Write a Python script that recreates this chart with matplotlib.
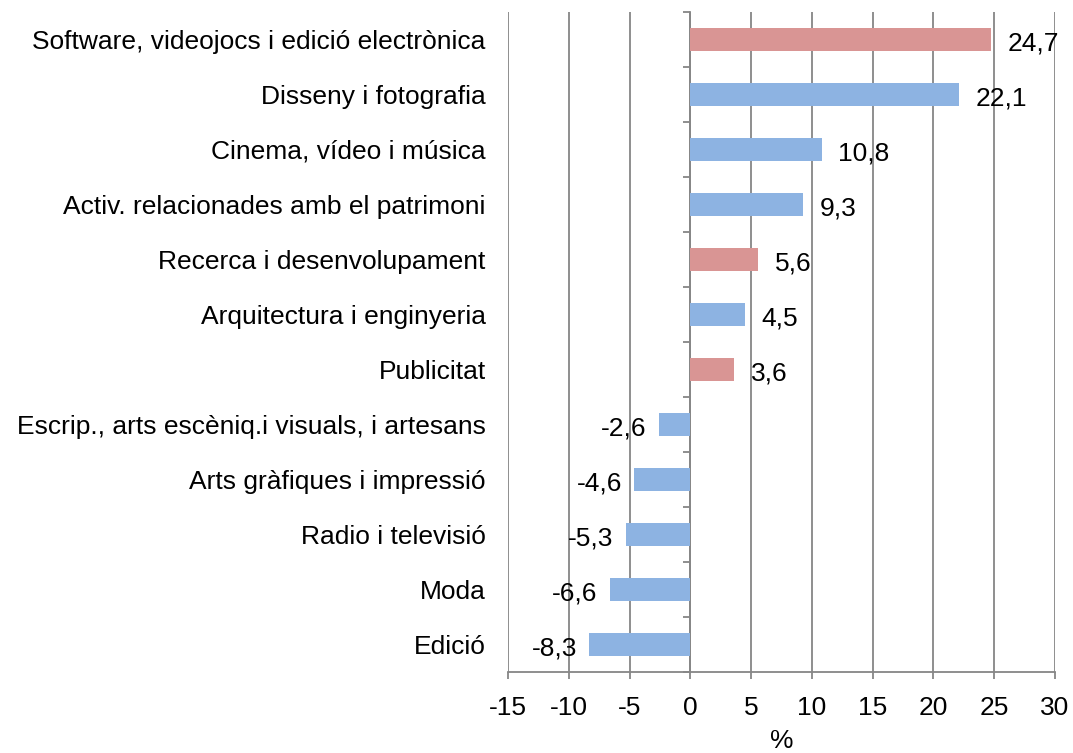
import numpy as np
import matplotlib.pyplot as plt

plt.rcParams['font.family'] = ['Liberation Sans', 'DejaVu Sans']
plt.rcParams['axes.unicode_minus'] = False

categories = [
    "Software, videojocs i edició electrònica",
    "Disseny i fotografia",
    "Cinema, vídeo i música",
    "Activ. relacionades amb el patrimoni",
    "Recerca i desenvolupament",
    "Arquitectura i enginyeria",
    "Publicitat",
    "Escrip., arts escèniq.i visuals, i artesans",
    "Arts gràfiques i impressió",
    "Radio i televisió",
    "Moda",
    "Edició",
]
values = [24.7, 22.1, 10.8, 9.3, 5.6, 4.5, 3.6, -2.6, -4.6, -5.3, -6.6, -8.3]
highlight = [True, False, False, False, True, False, True, False, False, False, False, False]

red = "#D99594"
blue = "#8DB3E2"
grid_c = "#868686"
fs = 19

fig = plt.figure(figsize=(10.73, 7.53), dpi=100)
ax = fig.add_axes([0.4734, 0.1076, 0.5098, 0.8765])

n = len(categories)
y = np.arange(n)[::-1]
colors = [red if h else blue for h in highlight]
ax.barh(y, values, height=0.43, color=colors, zorder=3)

for yi, v in zip(y, values):
    lbl = f"{v:.1f}".replace(".", ",")
    if v >= 0:
        ax.annotate(lbl, (v, yi), xytext=(12, -3), textcoords="offset points",
                    ha="left", va="center", fontsize=fs, zorder=4)
    else:
        ax.annotate(lbl, (v, yi), xytext=(-9, -3), textcoords="offset points",
                    ha="right", va="center", fontsize=fs, zorder=4)

ax.set_xlim(-15, 30)
ax.set_ylim(-0.5, n - 0.5)
ax.set_xticks(np.arange(-15, 31, 5))
ax.set_yticks(y)
ax.set_yticklabels(categories, fontsize=fs)
ax.tick_params(axis="y", length=0, pad=16)
ax.tick_params(axis="x", length=5, color=grid_c, width=1.3, labelsize=fs, pad=12)
ax.set_xlabel("%", fontsize=fs, labelpad=7)

ax.grid(axis="x", color=grid_c, linewidth=1.3, zorder=0)
for s in ["top", "right", "left"]:
    ax.spines[s].set_visible(False)
ax.spines["bottom"].set_color(grid_c)
ax.spines["bottom"].set_linewidth(1.3)

# vertical axis at zero with category boundary ticks
sec = ax.secondary_yaxis(1 / 3)
sec.set_yticks(np.arange(-0.5, n, 1.0))
sec.set_yticklabels([])
sec.tick_params(length=5, color=grid_c, width=1.3)
sec.spines["left"].set_color(grid_c)
sec.spines["left"].set_linewidth(1.3)

fig.savefig("out.png", dpi=100)
